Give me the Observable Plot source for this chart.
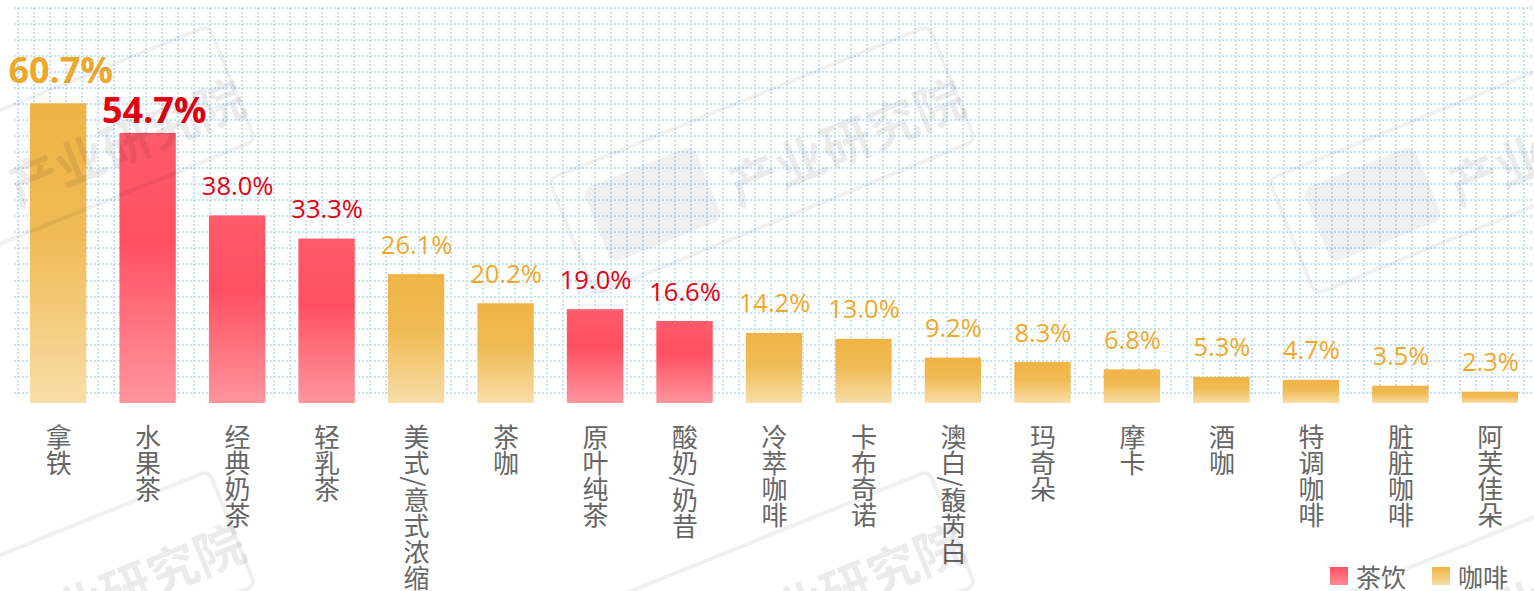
<!DOCTYPE html>
<html>
<head>
<meta charset="utf-8">
<script src="https://cdn.jsdelivr.net/npm/d3@7"></script>
<script src="https://cdn.jsdelivr.net/npm/@observablehq/plot@0.6"></script>
<style>
  html, body { margin: 0; padding: 0; background: #fff; }
  #wrap { position: relative; width: 1534px; height: 591px; overflow: hidden; font-family: "Noto Sans CJK SC", "Noto Sans", sans-serif; }
  #chart svg { display: block; }
  #legend { position: absolute; right: 26px; bottom: 0px; display: flex; align-items: center; font-size: 25px; line-height: 30px; color: #666; }
  #legend .item { display: flex; align-items: center; margin-left: 26px; }
  #legend .sw { width: 18px; height: 18px; margin-right: 8px; }
</style>
</head>
<body>
<div id="wrap">
  <div id="chart"></div>
  <div id="legend"></div>
</div>
<script>
// ---- data ----
const categories = ["拿铁","水果茶","经典奶茶","轻乳茶","美式/意式浓缩","茶咖","原叶纯茶","酸奶/奶昔","冷萃咖啡","卡布奇诺","澳白/馥芮白","玛奇朵","摩卡","酒咖","特调咖啡","脏脏咖啡","阿芙佳朵"];
const values = [60.7, 54.7, 38.0, 33.3, 26.1, 20.2, 19.0, 16.6, 14.2, 13.0, 9.2, 8.3, 6.8, 5.3, 4.7, 3.5, 2.3];
const types = ["咖啡","茶饮","茶饮","茶饮","咖啡","咖啡","茶饮","茶饮","咖啡","咖啡","咖啡","咖啡","咖啡","咖啡","咖啡","咖啡","咖啡"];
const seriesNames = ["茶饮","咖啡"];
const watermarkText = "产业研究院";

const data = categories.map((c, i) => ({category: c, value: values[i], type: types[i]}));

const textColor = {"茶饮": "#e60012", "咖啡": "#efa92a"};

const fmt = d => d.value.toFixed(1) + "%";
const rest = data.slice(2);

const chart = Plot.plot({
  width: 1534,
  height: 591,
  marginLeft: 21,
  marginRight: 7,
  marginTop: 8,
  marginBottom: 188,
  x: {domain: categories, paddingInner: 0.37, paddingOuter: 0.1, round: false, axis: null},
  y: {domain: [0, 80], axis: null},
  color: {type: "identity"},
  style: {fontFamily: "'Noto Sans CJK SC', 'Noto Sans', sans-serif", background: "transparent"},
  marks: [
    Plot.barY(data.filter(d => d.type === "茶饮"), {x: "category", y: "value", fill: "url(#grad-tea)"}),
    Plot.barY(data.filter(d => d.type === "咖啡"), {x: "category", y: "value", fill: "url(#grad-coffee)"}),
    Plot.text(data.slice(0, 1), {x: "category", y: "value", text: fmt, fill: d => textColor[d.type], lineAnchor: "bottom", dy: -21, dx: 2, fontSize: 36, fontWeight: "bold", fontFamily: "'Open Sans', sans-serif"}),
    Plot.text(data.slice(1, 2), {x: "category", y: "value", text: fmt, fill: d => textColor[d.type], lineAnchor: "bottom", dy: -10, dx: 6, fontSize: 36, fontWeight: "bold", fontFamily: "'Open Sans', sans-serif"}),
    Plot.text(rest, {x: "category", y: "value", text: fmt, fill: d => textColor[d.type], lineAnchor: "bottom", dy: -21, fontSize: 25.5, fontFamily: "'Open Sans', sans-serif"}),
    Plot.text(data, {x: "category", y: 0, text: "category", fill: "#666", fontSize: 26, textAnchor: "start"})
  ]
});

const svg = d3.select(chart);

// gradients
const defs = svg.insert("defs", ":first-child");
const gTea = defs.append("linearGradient").attr("id", "grad-tea").attr("x1", 0).attr("y1", 0).attr("x2", 0).attr("y2", 1);
gTea.append("stop").attr("offset", "0%").attr("stop-color", "#ff5b6a");
gTea.append("stop").attr("offset", "40%").attr("stop-color", "#ff5062");
gTea.append("stop").attr("offset", "100%").attr("stop-color", "#ff959e");
const gCof = defs.append("linearGradient").attr("id", "grad-coffee").attr("x1", 0).attr("y1", 0).attr("x2", 0).attr("y2", 1);
gCof.append("stop").attr("offset", "0%").attr("stop-color", "#efb445");
gCof.append("stop").attr("offset", "45%").attr("stop-color", "#f0bb55");
gCof.append("stop").attr("offset", "100%").attr("stop-color", "#f8dea8");

// dotted background grid (decoration)
const grid = svg.insert("g", "defs + *").attr("aria-label", "grid");
const gx0 = 14, gx1 = 1534, gy0 = 8, gy1 = 397;
for (let k = 0; 18 + k * 16.02 <= gx1; k++) {
  const x = Math.round(18 + k * 16.02);
  grid.append("line").attr("x1", x).attr("x2", x).attr("y1", gy0).attr("y2", gy1);
}
for (let k = 0; 8 + k * 16.03 <= gy1; k++) {
  const y = Math.round(8 + k * 16.03);
  grid.append("line").attr("x1", gx0).attr("x2", gx1).attr("y1", y).attr("y2", y);
}
grid.attr("stroke", "#c3e2f5").attr("stroke-width", 2).attr("stroke-dasharray", "2,2").attr("shape-rendering", "crispEdges");

// vertical category labels (last text mark)
const textGroups = svg.selectAll('g[aria-label="text"]').nodes();
d3.select(textGroups[textGroups.length - 1]).selectAll("text")
  .attr("dy", null)
  .attr("y", 21)
  .style("writing-mode", "vertical-rl")
  .style("text-orientation", "mixed")
  .style("dominant-baseline", "central");

// faint watermark (decoration)
const wm = svg.append("g").attr("aria-label", "watermark").attr("pointer-events", "none");
for (let i = 0; i < 3; i++) {
  for (let j = 0; j < 2; j++) {
    const g = wm.append("g").attr("transform", `translate(${42 + 720 * i},${160 + 445 * j}) rotate(-22)`);
    g.append("rect").attr("x", -205).attr("y", -62).attr("width", 410).attr("height", 124).attr("rx", 8)
      .attr("fill", "none").attr("stroke", "#000").attr("stroke-opacity", 0.06).attr("stroke-width", 4);
    g.append("rect").attr("x", -178).attr("y", -40).attr("width", 120).attr("height", 80).attr("rx", 10)
      .attr("fill", "#000").attr("fill-opacity", 0.06);
    g.append("text").attr("x", 85).attr("y", 12).attr("text-anchor", "middle").attr("dominant-baseline", "central")
      .attr("font-size", 50).attr("font-weight", "bold").attr("fill", "#000").attr("fill-opacity", 0.08)
      .text(watermarkText);
  }
}

document.getElementById("chart").appendChild(chart);

// legend
const legendColors = {"茶饮": "linear-gradient(#ff4f60, #ff8c96)", "咖啡": "linear-gradient(#efb445, #f8dca4)"};
const leg = d3.select("#legend");
seriesNames.forEach(s => {
  const it = leg.append("div").attr("class", "item");
  it.append("div").attr("class", "sw").style("background", legendColors[s]);
  it.append("span").text(s);
});
</script>
</body>
</html>
